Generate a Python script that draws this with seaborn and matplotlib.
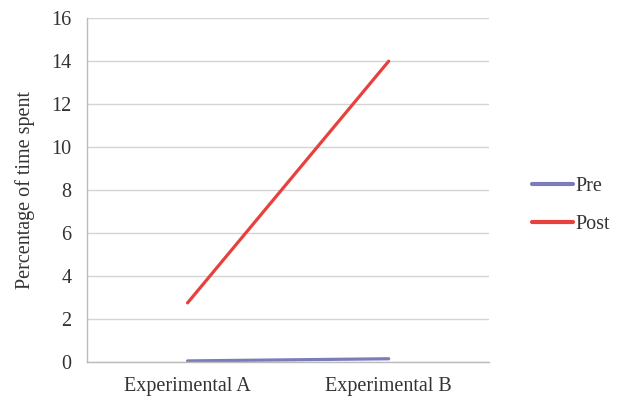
import pandas as pd
import matplotlib.pyplot as plt
import seaborn as sns

groups = ["Experimental A", "Experimental B"]
pre = [0.05, 0.15]
post = [2.75, 14.0]

sns.set_theme(style="white")
plt.rcParams["font.family"] = ["Liberation Serif", "DejaVu Serif"]

df = pd.DataFrame({
    "group": groups * 2,
    "value": pre + post,
    "phase": ["Pre"] * 2 + ["Post"] * 2,
})

fig = plt.figure(figsize=(6.17, 4.04), dpi=100)
ax = fig.add_axes([0.141, 0.104, 0.652, 0.851])

sns.lineplot(data=df, x="group", y="value", hue="phase", sort=False,
             palette={"Pre": "#7B7DBB", "Post": "#E8403C"}, linewidth=2.3, ax=ax)

ax.set_xlim(-0.5, 1.5)
ax.set_ylim(0, 16)
ax.set_yticks(range(0, 17, 2))
ax.yaxis.grid(True, color="#D4D4D4", linewidth=1)
ax.set_axisbelow(True)

# category labels centred, tick marks between categories
ax.set_xticks([0, 1])
ax.set_xticklabels(groups, fontsize=14.5, color="#333333")
ax.set_xticks([-0.5, 0.5, 1.5], minor=True)
ax.tick_params(axis="x", which="major", length=0, pad=11)
ax.tick_params(axis="x", which="minor", length=5, color="#BBBBBB", direction="in")
ax.tick_params(axis="y", length=5, color="#BBBBBB", labelsize=14.5, labelcolor="#333333", pad=6)

for side in ["top", "right"]:
    ax.spines[side].set_visible(False)
for side in ["left", "bottom"]:
    ax.spines[side].set_color("#BBBBBB")
    ax.spines[side].set_linewidth(1)

ax.set_xlabel("")
ax.set_ylabel("Percentage of time spent", fontsize=14.5, color="#333333", labelpad=12)

leg = ax.legend(loc="center left", bbox_to_anchor=(1.062, 0.455), frameon=False,
                fontsize=14.5, handlelength=2.0, labelspacing=0.95, handletextpad=0.15,
                title=None)
for line in leg.get_lines():
    line.set_linewidth(3)
for t in leg.get_texts():
    t.set_color("#333333")

fig.savefig("out.png", dpi=100)
